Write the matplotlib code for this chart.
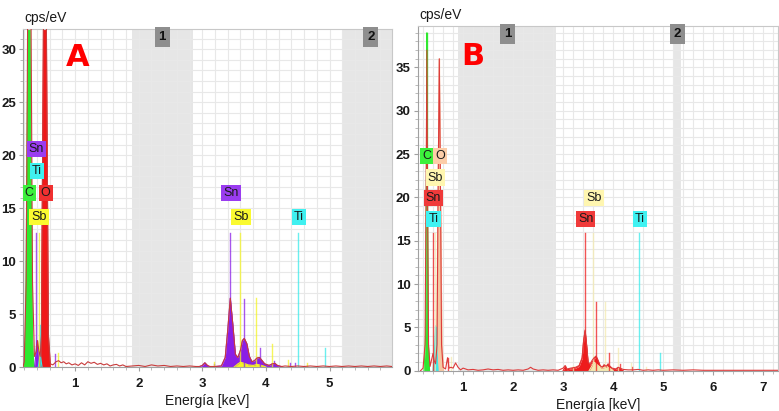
import matplotlib
matplotlib.use("Agg")
import matplotlib.pyplot as plt
import matplotlib.transforms as mtransforms
from matplotlib.ticker import MultipleLocator

# ---------------- Panel A data ----------------
A_xlim = (0.18, 5.98)
A_ylim = (0, 31.9)
A_bands = [(1.89, 2.86), (5.20, 5.98)]
A_band_labels = [("1", 2.37), ("2", 5.65)]

A_spec_e = [0.18, 0.20, 0.23, 0.26, 0.277, 0.30, 0.33, 0.36, 0.39, 0.41, 0.43, 0.45,
            0.47, 0.50, 0.525, 0.55, 0.58, 0.61, 0.65, 0.70, 0.74, 0.78, 0.82, 0.86,
            0.90, 0.95, 1.00, 1.05, 1.10, 1.15, 1.20, 1.25, 1.30, 1.35, 1.40, 1.45,
            1.50, 1.55, 1.60, 1.65, 1.70, 1.75, 1.80, 1.90, 2.00, 2.10, 2.20, 2.30,
            2.40, 2.50, 2.60, 2.70, 2.80, 2.90, 2.95, 3.00, 3.04, 3.08, 3.12, 3.20,
            3.30, 3.36, 3.40, 3.44, 3.48, 3.52, 3.56, 3.60, 3.63, 3.66, 3.70, 3.74,
            3.78, 3.82, 3.86, 3.90, 3.94, 3.98, 4.05, 4.10, 4.14, 4.18, 4.25, 4.30,
            4.40, 4.50, 4.60, 4.70, 4.80, 4.90, 5.00, 5.10, 5.20, 5.30, 5.40, 5.50,
            5.60, 5.70, 5.80, 5.90, 5.98]
A_spec_y = [0.0, 0.5, 8.0, 40.0, 48.0, 40.0, 8.0, 1.0, 1.5, 2.5, 1.5, 1.0,
            3.0, 30.0, 60.0, 30.0, 3.0, 0.3, 0.2, 0.5, 0.6, 0.4, 0.5, 0.3,
            0.4, 0.2, 0.3, 0.15, 0.4, 0.2, 0.5, 0.35, 0.45, 0.25, 0.35, 0.2,
            0.3, 0.1, 0.2, 0.25, 0.1, 0.2, 0.05, 0.1, 0.15, 0.05, 0.2, 0.1,
            0.15, 0.05, 0.1, 0.05, 0.1, 0.05, 0.05, 0.15, 0.4, 0.15, 0.05, 0.05,
            0.1, 0.9, 3.5, 6.5, 4.0, 1.2, 0.9, 1.6, 2.5, 2.7, 2.2, 1.0,
            0.5, 0.6, 0.85, 0.9, 0.6, 0.3, 0.15, 0.3, 0.35, 0.15, 0.05, 0.1,
            0.05, 0.1, 0.05, 0.1, 0.05, 0.1, 0.05, 0.1, 0.05, 0.1, 0.05, 0.1,
            0.05, 0.1, 0.05, 0.1, 0.05]

A_C_e = [0.19, 0.22, 0.25, 0.277, 0.30, 0.33, 0.35]
A_C_y = [0.0, 3.0, 25.0, 45.0, 25.0, 3.0, 0.0]
A_O_e = [0.44, 0.47, 0.50, 0.525, 0.55, 0.58, 0.61]
A_O_y = [0.0, 3.0, 30.0, 60.0, 30.0, 3.0, 0.0]
A_Sn_e = [2.95, 3.00, 3.04, 3.08, 3.12, 3.30, 3.36, 3.40, 3.44, 3.48, 3.52, 3.56, 3.60,
          3.63, 3.66, 3.70, 3.74, 3.78, 3.82, 3.86, 3.90, 3.94, 3.98, 4.05, 4.10, 4.14,
          4.18, 4.25]
A_Sn_y = [0.0, 0.15, 0.4, 0.15, 0.0, 0.1, 0.9, 3.5, 6.5, 4.0, 1.2, 0.9, 1.6,
          2.5, 2.7, 2.2, 1.0, 0.5, 0.6, 0.85, 0.9, 0.6, 0.3, 0.15, 0.3, 0.35,
          0.15, 0.0]
A_Sn_low_e = [0.36, 0.38, 0.40, 0.42, 0.44]
A_Sn_low_y = [0.0, 1.0, 2.5, 1.0, 0.0]
A_Sb_e = [3.50, 3.56, 3.60, 3.66, 3.72, 3.80, 3.86, 3.90, 3.96, 4.00]
A_Sb_y = [0.0, 0.3, 0.45, 0.35, 0.2, 0.15, 0.25, 0.2, 0.1, 0.0]
A_Ti_e = [0.42, 0.44, 0.45, 0.46, 0.48]
A_Ti_y = [0.0, 0.8, 1.2, 0.8, 0.0]

# element marker lines: (energy, height)
A_lines_Sn = [(0.39, 12.7), (0.69, 1.2), (3.18, 0.3), (3.44, 12.7), (3.66, 6.4),
              (3.91, 1.8), (4.13, 0.6), (4.38, 0.35), (4.46, 0.35)]
A_lines_Sb = [(0.43, 12.7), (0.73, 1.3), (3.19, 0.5), (3.60, 12.7), (3.85, 6.5),
              (4.10, 2.2), (4.35, 0.7), (4.65, 0.35)]
A_lines_Ti = [(0.45, 4.0), (4.51, 12.7), (4.93, 1.8)]
A_lines_C = [(0.277, 40.0)]
A_lines_O = [(0.525, 40.0)]

A_labels = [("Sn", 0.39, 20.6), ("Ti", 0.40, 18.5), ("C", 0.28, 16.4), ("O", 0.535, 16.4),
            ("Sb", 0.43, 14.2), ("Sn", 3.45, 16.4), ("Sb", 3.61, 14.2), ("Ti", 4.52, 14.2)]

# ---------------- Panel B data ----------------
B_xlim = (0.09, 7.3)
B_ylim = (0, 39.8)
B_bands = [(0.90, 2.86), (5.21, 5.36)]
B_band_labels = [("1", 1.89), ("2", 5.28)]

B_spec_e = [0.15, 0.20, 0.24, 0.26, 0.277, 0.29, 0.31, 0.34, 0.38, 0.40, 0.42, 0.45,
            0.48, 0.50, 0.525, 0.55, 0.57, 0.60, 0.65, 0.69, 0.72, 0.76, 0.80, 0.85,
            0.90, 0.95, 1.00, 1.05, 1.10, 1.20, 1.30, 1.40, 1.50, 1.60, 1.70, 1.80,
            1.90, 2.00, 2.10, 2.20, 2.30, 2.35, 2.40, 2.50, 2.60, 2.70, 2.80, 2.90,
            3.00, 3.04, 3.08, 3.15, 3.25, 3.32, 3.38, 3.41, 3.44, 3.47, 3.50, 3.54,
            3.58, 3.62, 3.66, 3.70, 3.74, 3.78, 3.82, 3.86, 3.90, 3.94, 3.98, 4.05,
            4.10, 4.14, 4.20, 4.30, 4.40, 4.50, 4.60, 4.70, 4.80, 4.90, 5.00, 5.20,
            5.40, 5.60, 5.80, 6.00, 6.50, 7.00, 7.30]
B_spec_y = [0.0, 0.3, 3.0, 20.0, 37.0, 20.0, 3.0, 0.5, 1.5, 2.0, 1.2, 0.8,
            3.0, 20.0, 36.0, 20.0, 3.0, 0.4, 0.2, 1.5, 0.3, 0.4, 0.3, 0.9,
            0.4, 0.1, 0.3, 0.2, 0.1, 0.15, 0.05, 0.1, 0.2, 0.1, 0.15, 0.05,
            0.1, 0.05, 0.1, 0.05, 0.2, 0.4, 0.2, 0.05, 0.1, 0.05, 0.1, 0.05,
            0.3, 0.6, 0.2, 0.3, 0.4, 0.6, 1.5, 3.5, 4.7, 3.0, 1.0, 0.8,
            1.2, 1.5, 1.7, 1.2, 0.6, 0.4, 0.7, 0.5, 0.8, 0.5, 0.3, 0.2,
            0.4, 0.3, 0.15, 0.1, 0.1, 0.15, 0.05, 0.1, 0.05, 0.1, 0.05, 0.1,
            0.05, 0.1, 0.05, 0.05, 0.05, 0.05, 0.05]

B_C_e = [0.22, 0.25, 0.27, 0.277, 0.285, 0.30, 0.33]
B_C_y = [0.0, 4.0, 25.0, 39.0, 25.0, 4.0, 0.0]
B_O_e = [0.44, 0.47, 0.50, 0.525, 0.55, 0.58, 0.61]
B_O_y = [0.0, 3.0, 20.0, 36.0, 20.0, 3.0, 0.0]
B_Sn_e = [3.00, 3.04, 3.08, 3.15, 3.25, 3.32, 3.38, 3.41, 3.44, 3.47, 3.50, 3.54,
          3.58, 3.62, 3.66, 3.70, 3.74, 3.78, 3.82, 3.86, 3.90, 3.94, 3.98, 4.05,
          4.10, 4.14, 4.20]
B_Sn_y = [0.0, 0.4, 0.1, 0.2, 0.3, 0.5, 1.4, 3.4, 4.6, 2.9, 0.9, 0.6,
          1.0, 1.3, 1.6, 1.1, 0.5, 0.3, 0.6, 0.4, 0.7, 0.4, 0.2, 0.15,
          0.3, 0.2, 0.0]
B_Sb_e = [3.52, 3.58, 3.62, 3.66, 3.72, 3.80, 3.86, 3.90, 3.96, 4.00]
B_Sb_y = [0.0, 0.6, 1.0, 0.8, 0.5, 0.3, 0.5, 0.4, 0.2, 0.0]
B_Ti_e = [0.40, 0.43, 0.45, 0.47, 0.50]
B_Ti_y = [0.0, 2.5, 5.2, 2.5, 0.0]

B_lines_Sn = [(0.40, 15.9), (0.69, 1.5), (3.04, 0.6), (3.44, 15.9), (3.66, 7.9),
              (3.91, 2.1), (4.13, 0.8), (4.38, 0.4)]
B_lines_Sb = [(0.43, 15.9), (0.75, 1.6), (3.19, 0.6), (3.60, 15.9), (3.84, 7.9),
              (4.10, 2.6), (4.35, 0.9), (4.65, 0.4)]
B_lines_Ti = [(0.45, 5.0), (4.51, 15.9), (4.93, 2.1)]
B_lines_C = [(0.277, 39.0)]
B_lines_O = [(0.525, 36.0)]

B_labels = [("C", 0.27, 24.8), ("O", 0.54, 24.8), ("Sb", 0.45, 22.3), ("Sn", 0.41, 19.9),
            ("Ti", 0.41, 17.5), ("Sb", 3.62, 19.9), ("Sn", 3.45, 17.5), ("Ti", 4.53, 17.5)]

# ---------------- styling ----------------
FONT = ["Liberation Sans", "DejaVu Sans"]
plt.rcParams['font.family'] = FONT

A_colors = {"C": "#2ee82e", "O": "#f01818", "Sn": "#8a1ee6", "Sb": "#f4f424", "Ti": "#38eaea",
            "spec": "#c83c3c"}
A_label_colors = {"C": "#3cf03c", "O": "#f03030", "Sn": "#9a3cf0", "Sb": "#fafa30", "Ti": "#40f0f0"}
B_colors = {"C": "#2ee82e", "O": "#f5c7a2", "Sn": "#ee1c1c", "Sb": "#f3eab0", "Ti": "#38eaea",
            "spec": "#dd3a3a"}
B_label_colors = {"C": "#3cf03c", "O": "#fccda8", "Sn": "#f03a3a", "Sb": "#fff6b0", "Ti": "#40f2f2"}

fig = plt.figure(figsize=(7.79, 4.11), dpi=100)
fig.patch.set_facecolor("white")


def draw_panel(ax, xlim, ylim, ymajor, xmax_tick, bands, band_labels, spec_e, spec_y,
               fills, lines, labels, colors, label_colors, letter, letter_xy):
    ax.set_xlim(*xlim)
    ax.set_ylim(*ylim)
    ax.set_facecolor("white")
    ax.xaxis.set_major_locator(MultipleLocator(1))
    ax.xaxis.set_minor_locator(MultipleLocator(0.2))
    ax.yaxis.set_major_locator(MultipleLocator(ymajor))
    ax.yaxis.set_minor_locator(MultipleLocator(1))
    ax.grid(which="both", color="#e8e8e8", lw=0.8, zorder=0)
    ax.set_axisbelow(True)
    for a, b in bands:
        ax.axvspan(a, b, color="#d6d6d6", alpha=0.6, lw=0, zorder=0.5)
    trans = mtransforms.blended_transform_factory(ax.transData, ax.transAxes)
    for txt, x in band_labels:
        ax.text(x, 0.995, txt, transform=trans, ha="center", va="top", fontsize=9.5,
                fontweight="bold", color="#111111",
                bbox=dict(boxstyle="square,pad=0.3", fc="#8e8e8e", ec="none"), zorder=6)
    # fills
    for el, (e, y) in fills:
        ax.fill_between(e, y, 0, color=colors[el], lw=0, zorder=2)
        ax.plot(e, y, color=colors[el], lw=0.8, zorder=2.2)
    # spectrum outline
    ax.plot(spec_e, spec_y, color=colors["spec"], lw=0.8, zorder=3)
    # element lines
    for el, lst in lines:
        for e, h in lst:
            ax.plot([e, e], [0, h], color=colors[el], lw=1.0, alpha=0.75, zorder=2.5)
    # labels
    for txt, x, y in labels:
        ax.text(x, y, txt, ha="center", va="center", fontsize=9, color="#1a1a1a",
                bbox=dict(boxstyle="square,pad=0.17", fc=label_colors[txt], ec="none"),
                zorder=7)
    for sp in ["top", "right"]:
        ax.spines[sp].set_color("#c8c8c8")
    for sp in ["left", "bottom"]:
        ax.spines[sp].set_color("#a0a0a0")
    ax.tick_params(which="major", length=3, color="#a0a0a0", labelsize=9.5)
    ax.tick_params(axis="y", which="major", pad=2)
    ax.tick_params(axis="x", which="major", pad=5)
    ax.tick_params(which="minor", length=2, color="#b0b0b0")
    ax.set_xticks([t for t in range(1, xmax_tick + 1)])
    for lab in ax.get_xticklabels() + ax.get_yticklabels():
        lab.set_fontweight("bold")
        lab.set_color("#1a1a1a")
    ax.set_xlabel("Energía [keV]", fontsize=10, color="#1a1a1a", labelpad=3)
    ax.text(0.005, 1.012, "cps/eV", transform=ax.transAxes, ha="left", va="bottom",
            fontsize=10, color="#1a1a1a")
    ax.text(letter_xy[0], letter_xy[1], letter, transform=ax.transAxes, ha="center",
            va="center", fontsize=22, fontweight="bold", color="#ff0000",
            family="DejaVu Sans", zorder=8)


axA = fig.add_axes([0.0295, 0.107, 0.4735, 0.822])
draw_panel(axA, A_xlim, A_ylim, 5, 5, A_bands, A_band_labels, A_spec_e, A_spec_y,
           [("Sn", (A_Sn_e, A_Sn_y)), ("Sb", (A_Sb_e, A_Sb_y)), ("Sn", (A_Sn_low_e, A_Sn_low_y)),
            ("Ti", (A_Ti_e, A_Ti_y)), ("C", (A_C_e, A_C_y)), ("O", (A_O_e, A_O_y))],
           [("Sn", A_lines_Sn), ("Sb", A_lines_Sb), ("Ti", A_lines_Ti),
            ("C", A_lines_C), ("O", A_lines_O)],
           A_labels, A_colors, A_label_colors, "A", (0.148, 0.915))

axB = fig.add_axes([0.536, 0.098, 0.463, 0.839])
draw_panel(axB, B_xlim, B_ylim, 5, 7, B_bands, B_band_labels, B_spec_e, B_spec_y,
           [("Sn", (B_Sn_e, B_Sn_y)), ("Sb", (B_Sb_e, B_Sb_y)), ("O", (B_O_e, B_O_y)),
            ("Ti", (B_Ti_e, B_Ti_y)), ("C", (B_C_e, B_C_y))],
           [("Sn", B_lines_Sn), ("Sb", B_lines_Sb), ("Ti", B_lines_Ti),
            ("C", B_lines_C), ("O", B_lines_O)],
           B_labels, B_colors, B_label_colors, "B", (0.153, 0.912))

fig.savefig("out.png", dpi=100, facecolor="white")
